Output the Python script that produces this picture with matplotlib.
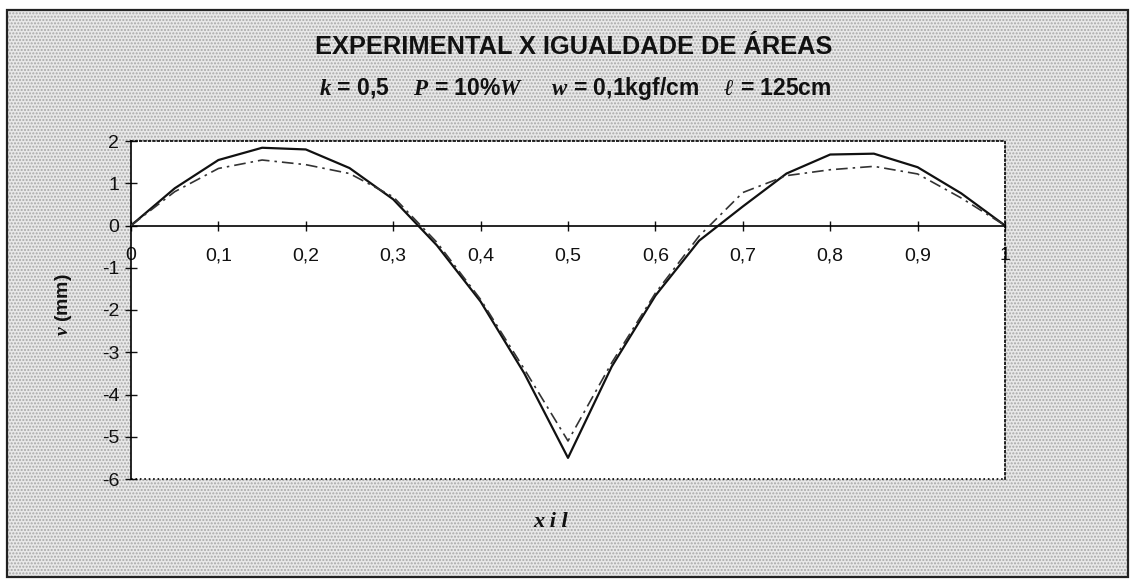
import numpy as np
import matplotlib
matplotlib.use("Agg")
import matplotlib.pyplot as plt
from matplotlib.patches import Rectangle
from matplotlib.ticker import FuncFormatter

plt.rcParams.update({
    'font.family': 'Liberation Sans',
    'font.weight': 'bold',
    'axes.unicode_minus': False,
    'mathtext.fontset': 'custom',
    'mathtext.rm': 'Liberation Sans:bold',
    'mathtext.it': 'Liberation Serif:italic:bold',
    'mathtext.bf': 'Liberation Sans:bold',
    'hatch.linewidth': 1.0,
})

# deflection along the beam, x / l
x_pos = [0.00, 0.05, 0.10, 0.15, 0.20, 0.25, 0.30, 0.35, 0.40, 0.45, 0.50,
         0.55, 0.60, 0.65, 0.70, 0.75, 0.80, 0.85, 0.90, 0.95, 1.00]
v_experimental = [0.00, 0.88, 1.55, 1.84, 1.80, 1.36, 0.62, -0.47, -1.80, -3.50, -5.50,
                  -3.34, -1.66, -0.36, 0.45, 1.23, 1.68, 1.70, 1.38, 0.76, 0.00]
v_areas = [0.00, 0.80, 1.35, 1.55, 1.44, 1.23, 0.68, -0.40, -1.75, -3.40, -5.10,
           -3.25, -1.60, -0.25, 0.78, 1.18, 1.32, 1.40, 1.22, 0.65, 0.00]

x_ticks = [0, 0.1, 0.2, 0.3, 0.4, 0.5, 0.6, 0.7, 0.8, 0.9, 1]
y_ticks = [-6, -5, -4, -3, -2, -1, 0, 1, 2]

W, H = 1131, 583
fig = plt.figure(figsize=(W / 100, H / 100), dpi=100, facecolor='white')

# stippled chart area with the outer frame
bg = Rectangle((7 / W, 1 - 577 / H), (1128 - 7) / W, (577 - 10) / H,
               transform=fig.transFigure, facecolor='#e8e8e8',
               edgecolor='#a8a8a8', hatch='.....', lw=0, zorder=-2)
fig.patches.append(bg)
frame = Rectangle((7 / W, 1 - 577 / H), (1128 - 7) / W, (577 - 10) / H,
                  transform=fig.transFigure, facecolor='none',
                  edgecolor='#222222', lw=1.6, zorder=-1)
fig.patches.append(frame)

ax = fig.add_axes([131 / W, 1 - 479 / H, (1005 - 131) / W, (479 - 141) / H])
ax.set_facecolor('white')

ax.plot(x_pos, v_experimental, color='#111111', lw=1.6, zorder=3)
ax.plot(x_pos, v_areas, color='#333333', lw=1.2, dashes=(7, 3, 1.5, 3), zorder=3)

ax.set_xlim(0, 1)
ax.set_ylim(-6, 2)

ax.spines['bottom'].set_position(('data', 0))
ax.spines['bottom'].set_linewidth(1.2)
ax.spines['left'].set_linewidth(1.2)
for side in ('top', 'right'):
    ax.spines[side].set_linestyle(':')
    ax.spines[side].set_linewidth(1.2)
ax.axhline(-6, color='black', ls=':', lw=1.2, clip_on=False, zorder=4)

ax.set_xticks(x_ticks)
ax.set_yticks(y_ticks)
ax.xaxis.set_major_formatter(FuncFormatter(lambda v, p: f"{v:g}".replace('.', ',')))
ax.tick_params(axis='x', direction='inout', length=7, width=1, pad=12,
               labelsize=14, colors='#111111')
ax.tick_params(axis='y', direction='inout', length=9, width=1, pad=4,
               labelsize=14, colors='#111111')
for lbl in ax.get_xticklabels() + ax.get_yticklabels():
    lbl.set_fontweight('normal')

fig.text(574 / W, 1 - 47 / H, 'EXPERIMENTAL X IGUALDADE DE ÁREAS',
         ha='center', va='center', fontsize=18.3, fontweight='bold', color='#111111')
fig.text(575 / W, 1 - 88 / H,
         r'$k$ = 0,5    $P$ = 10%$W$     $w$ = 0,1kgf/cm    $\ell$ = 125cm',
         ha='center', va='center', fontsize=16.5, fontweight='bold', color='#111111')
fig.text(64 / W, 1 - 305 / H, r'$\nu$ (mm)', rotation=90,
         ha='center', va='center', fontsize=14, fontweight='bold', color='#111111')
fig.text(551 / W, 1 - 522 / H, 'x i l', ha='center', va='center',
         fontsize=16, family='Liberation Serif', style='italic',
         fontweight='bold', color='#111111')

fig.savefig('out.png', dpi=100, facecolor=fig.get_facecolor())
